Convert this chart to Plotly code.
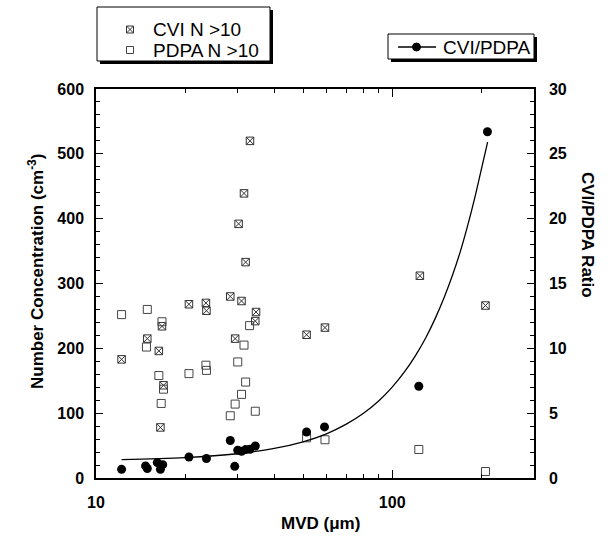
import plotly.graph_objects as go

# ---------------- data ----------------
cvi_mvd = [33.1, 31.6, 30.3, 32.0, 28.4, 31.0, 20.6, 23.5, 23.6, 34.7, 34.5, 29.5,
           14.9, 16.3, 12.2, 16.7, 16.9, 16.5, 51.4, 59.3, 124, 206.5]
cvi_conc = [520, 439, 392, 333, 280, 273, 268, 270, 258, 256, 242, 215,
            215, 196, 183, 234, 143, 78, 221, 232, 312, 266]

pdpa_mvd = [12.2, 14.9, 16.7, 14.8, 16.3, 16.9, 16.6, 20.6, 23.5, 23.6, 28.4, 29.5,
            31.0, 32.0, 30.1, 31.6, 33.0, 34.5, 51.4, 59.3, 123, 206.5]
pdpa_conc = [252, 260, 241, 202, 158, 137, 115, 161, 174, 166, 96, 114,
             129, 148, 179, 205, 235, 103, 62, 59, 44, 10]

ratio_mvd = [12.2, 14.7, 14.9, 16.1, 16.5, 16.8, 20.6, 23.6, 28.4, 29.4, 30.1, 31.0,
             32.0, 33.1, 34.5, 51.4, 59.1, 123, 209.7]
ratio_val = [0.67, 0.93, 0.73, 1.19, 0.67, 1.03, 1.62, 1.50, 2.89, 0.90, 2.14, 2.06,
             2.19, 2.22, 2.47, 3.55, 3.94, 7.08, 26.7]

# fitted trend curve
fit_mvd = [12.2, 20, 30, 40, 50, 60, 70, 80, 90, 100, 110, 120, 130, 140, 150,
           160, 170, 180, 190, 200, 210]
fit_ratio = [1.42, 1.57, 1.87, 2.28, 2.79, 3.41, 4.15, 4.99, 5.94, 7.01, 8.18, 9.46,
             10.84, 12.35, 13.96, 15.67, 17.5, 19.5, 21.6, 23.8, 25.9]

series_names = ["CVI N >10", "PDPA N >10", "CVI/PDPA"]

x_ticks = [10, 100]
x_minor = [20, 30, 40, 50, 60, 70, 80, 90, 200, 300]

# ---------------- layout geometry ----------------
W, H = 613, 542
L, R, T, B = 96, 79, 89, 64
PW, PH = W - L - R, H - T - B


def px(xp):
    return (xp - L) / PW


def py(yp):
    return (H - B - yp) / PH


FONT = "Liberation Sans, Arial, Helvetica, sans-serif"
bold16 = dict(family=FONT, size=16, color="black", weight="bold")
bold17 = dict(family=FONT, size=17, color="black", weight="bold")
leg_font = dict(family=FONT, size=19, color="black")

CVI_COL = "#333333"
PDPA_COL = "#444444"

fig = go.Figure()

fig.add_trace(go.Scatter(
    x=cvi_mvd, y=cvi_conc, mode="markers", name=series_names[0],
    marker=dict(symbol="square-x-open", size=7.5, color=CVI_COL, line=dict(width=1))))
fig.add_trace(go.Scatter(
    x=pdpa_mvd, y=pdpa_conc, mode="markers", name=series_names[1],
    marker=dict(symbol="square-open", size=8, color=PDPA_COL, line=dict(width=1))))
fig.add_trace(go.Scatter(
    x=fit_mvd, y=fit_ratio, mode="lines", yaxis="y2", name="fit",
    line=dict(color="black", width=1.3, shape="spline"), hoverinfo="skip"))
fig.add_trace(go.Scatter(
    x=ratio_mvd, y=ratio_val, mode="markers", yaxis="y2", name=series_names[2],
    marker=dict(symbol="circle", size=9, color="black")))

fig.update_layout(
    width=W, height=H,
    margin=dict(l=L, r=R, t=T, b=B, pad=0),
    paper_bgcolor="white", plot_bgcolor="white",
    font=dict(family=FONT, color="black"),
    showlegend=False,
    xaxis=dict(
        type="log", range=[1, 2.4788],
        tickvals=x_ticks, ticktext=[str(v) for v in x_ticks],
        ticks="inside", ticklen=8, tickwidth=1.3, tickcolor="black",
        minor=dict(tickvals=x_minor, ticks="inside", ticklen=4, tickwidth=1, tickcolor="black"),
        showline=True, linewidth=1.5, linecolor="black", mirror="ticks",
        showgrid=False, zeroline=False, tickfont=bold16, ticklabelstandoff=9,
    ),
    yaxis=dict(
        range=[0, 600], dtick=100, tick0=0,
        ticks="inside", ticklen=7, tickwidth=1.3, tickcolor="black",
        minor=dict(dtick=20, ticks="inside", ticklen=4, tickwidth=1, tickcolor="black"),
        showline=True, linewidth=1.5, linecolor="black",
        showgrid=False, zeroline=False, tickfont=bold16, ticklabelstandoff=7,
    ),
    yaxis2=dict(
        overlaying="y", side="right", range=[0, 30], dtick=5, tick0=0,
        ticks="inside", ticklen=7, tickwidth=1.3, tickcolor="black",
        minor=dict(dtick=1, ticks="inside", ticklen=4, tickwidth=1, tickcolor="black"),
        showline=True, linewidth=1.5, linecolor="black",
        showgrid=False, zeroline=False, tickfont=bold16, ticklabelstandoff=10,
    ),
)

# ---------------- legend boxes (drawn in paper space) ----------------
def box(x0, y0, x1, y1):
    # drop shadow then white framed box
    fig.add_shape(type="rect", xref="paper", yref="paper",
                  x0=px(x0 + 3), x1=px(x1 + 3), y0=py(y1 + 3), y1=py(y0 + 3),
                  fillcolor="black", line=dict(width=0))
    fig.add_shape(type="rect", xref="paper", yref="paper",
                  x0=px(x0), x1=px(x1), y0=py(y1), y1=py(y0),
                  fillcolor="white", line=dict(color="black", width=1))


def label(text, x, y):
    fig.add_annotation(text=text, xref="paper", yref="paper", x=px(x), y=py(y),
                       xanchor="left", yanchor="middle", showarrow=False, font=leg_font)


def sq(cx, cy, s, col, cross=False):
    h = s / 2
    fig.add_shape(type="rect", xref="paper", yref="paper",
                  x0=px(cx - h), x1=px(cx + h), y0=py(cy + h), y1=py(cy - h),
                  line=dict(color=col, width=1), fillcolor="rgba(0,0,0,0)")
    if cross:
        for (a, b) in [((cx - h, cy - h), (cx + h, cy + h)), ((cx - h, cy + h), (cx + h, cy - h))]:
            fig.add_shape(type="line", xref="paper", yref="paper",
                          x0=px(a[0]), y0=py(a[1]), x1=px(b[0]), y1=py(b[1]),
                          line=dict(color=col, width=1))


box(97, 7, 270, 61)
sq(130, 29.5, 7, CVI_COL, cross=True)
label(series_names[0], 151, 29.5)
sq(130, 50, 7, PDPA_COL)
label(series_names[1], 151, 50)

box(388, 34, 534, 59)
fig.add_shape(type="line", xref="paper", yref="paper",
              x0=px(398), x1=px(436), y0=py(47), y1=py(47),
              line=dict(color="black", width=1.3))
fig.add_shape(type="circle", xref="paper", yref="paper",
              x0=px(412.5), x1=px(420.5), y0=py(51), y1=py(43),
              fillcolor="black", line=dict(color="black", width=1))
label(series_names[2], 441, 47)

# ---------------- axis titles ----------------
fig.add_annotation(text="MVD (μm)", xref="paper", yref="paper",
                   x=px(320), y=py(523), showarrow=False, font=bold17,
                   xanchor="center", yanchor="middle")
fig.add_annotation(text="Number Concentration (cm<sup>-3</sup>)", xref="paper", yref="paper",
                   x=px(36), y=py(272), showarrow=False, font=bold17, textangle=-90,
                   xanchor="center", yanchor="middle")
fig.add_annotation(text="CVI/PDPA Ratio", xref="paper", yref="paper",
                   x=px(588), y=py(235), showarrow=False, font=bold17, textangle=90,
                   xanchor="center", yanchor="middle")

fig.write_html("out.html")
